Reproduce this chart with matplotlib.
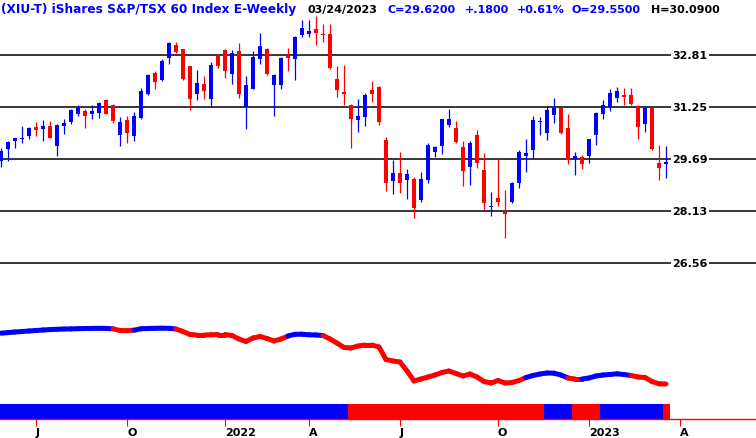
import numpy as np
import pandas as pd
import matplotlib
matplotlib.use("Agg")
import matplotlib.pyplot as plt
from matplotlib.collections import LineCollection
from matplotlib.transforms import blended_transform_factory

BLUE = "#0000ff"
RED = "#ff0000"
W, H = 756, 439

# weekly bars, last one is the week ending 03/24/2023
last_date = "2023-03-24"

opens = [29.65, 30.01, 30.25, 30.29, 30.40, 30.66, 30.60, 30.69, 30.09, 30.69,
         30.81, 31.05, 31.14, 31.05, 31.08, 31.47, 31.32, 30.42, 30.87, 30.40,
         30.93, 31.65, 32.28, 32.08, 32.74, 33.12, 33.00, 32.49, 31.65, 31.95,
         31.50, 32.82, 32.97, 32.25, 32.94, 31.26, 31.80, 32.70, 33.00, 31.92,
         31.92, 32.82, 32.70, 33.42, 33.45, 33.60, 33.45, 33.45, 32.10, 31.71,
         31.32, 30.87, 30.96, 31.77, 31.86, 30.27, 29.04, 29.28, 29.07, 29.10,
         28.47, 29.07, 29.92, 30.10, 30.73, 30.63, 30.06, 29.47, 30.42, 29.37,
         28.25, 28.52, 28.11, 28.41, 28.98, 29.79, 29.98, 30.80, 30.49, 31.03,
         31.24, 30.63, 29.70, 29.76, 29.80, 30.43, 31.06, 31.27, 31.54, 31.63,
         31.63, 31.30, 30.76, 31.24, 29.58, 29.55]
highs = [30.03, 30.24, 30.33, 30.69, 30.66, 30.81, 30.87, 30.84, 30.76, 30.90,
         31.20, 31.32, 31.20, 31.32, 31.41, 31.50, 31.35, 30.96, 30.99, 31.11,
         31.83, 32.25, 32.34, 32.70, 33.21, 33.21, 33.01, 32.50, 32.37, 32.19,
         32.61, 32.85, 33.00, 32.97, 33.18, 32.19, 32.94, 33.48, 33.03, 32.25,
         32.76, 33.03, 33.39, 33.87, 33.87, 33.99, 33.75, 33.75, 32.49, 32.52,
         31.35, 31.50, 31.68, 32.04, 31.89, 30.36, 29.68, 29.91, 29.40, 29.16,
         29.31, 30.18, 30.09, 30.91, 31.20, 30.84, 30.24, 30.24, 30.57, 29.88,
         28.71, 29.69, 28.77, 29.00, 29.97, 30.30, 30.99, 30.96, 31.29, 31.53,
         31.25, 31.05, 29.91, 29.82, 30.30, 31.12, 31.47, 31.80, 31.87, 31.84,
         31.83, 31.33, 31.30, 31.27, 30.12, 30.09]
lows = [29.47, 29.65, 30.04, 30.19, 30.31, 30.40, 30.24, 30.32, 29.79, 30.45,
        30.75, 30.99, 30.63, 30.90, 30.93, 31.05, 30.79, 30.10, 30.19, 30.25,
        30.90, 31.62, 31.80, 32.05, 32.55, 32.88, 32.07, 31.17, 31.47, 31.50,
        31.26, 32.43, 32.13, 31.95, 31.53, 30.60, 31.79, 32.55, 32.22, 30.99,
        31.80, 32.34, 32.07, 33.36, 33.36, 33.12, 33.21, 32.40, 31.56, 31.32,
        30.03, 30.51, 30.69, 31.41, 30.73, 28.74, 28.65, 28.68, 28.50, 27.93,
        28.41, 28.98, 29.77, 29.86, 30.67, 30.19, 28.89, 28.92, 29.43, 28.17,
        27.99, 28.29, 27.33, 28.38, 28.83, 29.32, 29.70, 30.43, 30.28, 30.79,
        30.46, 29.54, 29.22, 29.40, 29.58, 30.13, 30.91, 31.15, 31.42, 31.33,
        31.33, 30.31, 30.52, 29.96, 29.07, 29.13]
closes = [29.95, 30.21, 30.33, 30.31, 30.63, 30.57, 30.69, 30.33, 30.73, 30.78,
          31.17, 31.24, 30.99, 31.14, 31.38, 31.06, 30.84, 30.81, 30.49, 30.99,
          31.74, 32.22, 32.02, 32.64, 33.18, 32.91, 32.10, 31.50, 31.98, 31.74,
          32.52, 32.49, 32.34, 32.88, 31.65, 31.92, 32.76, 33.09, 32.25, 32.22,
          32.73, 32.73, 33.36, 33.63, 33.54, 33.48, 33.41, 32.43, 31.77, 31.65,
          30.90, 30.99, 31.62, 31.65, 30.82, 28.98, 29.28, 28.98, 29.25, 28.23,
          29.10, 30.12, 30.06, 30.90, 30.90, 30.22, 29.34, 30.18, 29.58, 28.37,
          28.26, 28.41, 28.05, 28.97, 29.91, 29.88, 30.87, 30.81, 31.17, 31.24,
          30.49, 29.66, 29.79, 29.56, 30.30, 31.09, 31.33, 31.69, 31.75, 31.57,
          31.36, 30.67, 31.24, 30.01, 29.44, 29.62]

# lower trend line (0-100 panel units) and its colour runs, starting blue
trend = [65.8, 66.4, 67.0, 67.5, 68.0, 68.5, 69.0, 69.4, 69.7, 70.0,
         70.1, 70.3, 70.5, 70.6, 70.7, 70.6, 70.2, 68.5, 68.3, 68.8,
         70.2, 70.5, 70.7, 70.8, 70.7, 70.0, 67.5, 64.5, 64.0, 64.0,
         64.2, 64.5, 64.5, 63.5, 60.0, 57.5, 61.0, 62.5, 60.5, 58.0,
         60.0, 63.0, 64.7, 64.8, 64.2, 64.0, 63.5, 60.0, 56.0, 51.5,
         51.0, 53.0, 54.0, 54.0, 52.0, 39.5, 38.0, 37.0, 28.0, 18.0,
         20.0, 22.0, 24.0, 26.5, 28.0, 25.5, 23.0, 25.0, 22.0, 17.5,
         16.0, 18.5, 16.0, 16.5, 18.5, 21.5, 23.5, 25.0, 26.0, 25.8,
         24.0, 21.0, 20.0, 20.0, 21.0, 23.0, 24.0, 24.5, 25.2, 24.5,
         23.5, 22.0, 21.5, 17.5, 15.2, 15.0]
trend_runs = [17, 3, 6, 16, 5, 29, 6, 2, 7, 5]
# bottom strip colour runs, starting blue
strip_runs = [50, 28, 4, 4, 9, 1]

grid_levels = [32.8125, 31.25, 29.6875, 28.125, 26.5625]
grid_labels = ["32.81", "31.25", "29.69", "28.13", "26.56"]

header = [("(XIU-T) iShares S&P/TSX 60 Index E-Weekly", 1, BLUE, 8.7),
          ("03/24/2023", 307, "black", 8),
          ("C=29.6200", 388, BLUE, 8),
          ("+.1800", 465, BLUE, 8),
          ("+0.61%", 517, BLUE, 8),
          ("O=29.5500", 572, BLUE, 8),
          ("H=30.0900", 651, "black", 8)]


def runs_to_colours(runs):
    out = []
    for k, n in enumerate(runs):
        out += [BLUE if k % 2 == 0 else RED] * n
    return out


plt.rcParams["font.family"] = ["DejaVu Sans"]
fig = plt.figure(figsize=(W / 100, H / 100), dpi=100)


def px_axes(top, bottom):
    return fig.add_axes([0, 1 - bottom / H, 1, (bottom - top) / H])


opens, highs, lows, closes = map(np.array, (opens, highs, lows, closes))
x = np.arange(len(opens))
xlim = (-1 / 7, 755 / 7)

# ---- price panel ----
ax = px_axes(0, 300)
ax.set_xlim(*xlim)
ax.set_ylim(34.504 - 0.03005 * 300, 34.504)
ax.axis("off")

for lev in grid_levels:
    ax.axhline(lev, color="black", linewidth=1.1, zorder=1)

cols = np.where(closes >= opens, BLUE, RED)
ax.vlines(x, lows, highs, colors=cols, linewidth=0.9, zorder=2)
body_lo = np.minimum(opens, closes)
body_h = np.maximum(np.abs(closes - opens), 0.035)
ax.bar(x, body_h, bottom=body_lo, width=0.7, color=cols, linewidth=0, zorder=3)

tr = blended_transform_factory(ax.transAxes, ax.transData)
for lev, lab in zip(grid_levels, grid_labels):
    ax.text(690 / W, lev, lab, transform=tr, ha="center", va="center",
            fontsize=8, fontweight="bold", color="black", zorder=4,
            bbox=dict(facecolor="white", edgecolor="none", pad=1.2))

for txt, px, c, fs in header:
    fig.text(px / W, 1 - 13 / H, txt, ha="left", va="baseline",
             fontsize=fs, fontweight="bold", color=c)

# ---- trend line panel ----
ax2 = px_axes(300, 400)
ax2.set_xlim(*xlim)
ax2.set_ylim(0, 100)
ax2.axis("off")
pts = np.column_stack([x, trend])
segs = np.stack([pts[:-1], pts[1:]], axis=1)
tcols = runs_to_colours(trend_runs)
lc = LineCollection(segs, colors=tcols[1:], linewidths=3.6, capstyle="round")
ax2.add_collection(lc)

# ---- strip + date axis ----
ax3 = px_axes(405, 420)
ax3.set_xlim(*xlim)
ax3.set_ylim(0, 1)
ax3.bar(x, 1, width=1.0, bottom=0, color=runs_to_colours(strip_runs), linewidth=0)
for s in ("top", "left", "right"):
    ax3.spines[s].set_visible(False)
ax3.spines["bottom"].set_color(RED)
ax3.spines["bottom"].set_linewidth(1.0)
ax3.set_yticks([])

dates = pd.date_range(end=last_date, periods=len(opens), freq="W-FRI")
all_dates = pd.date_range(start=dates[0], periods=len(dates) + 12, freq="W-FRI")
tick_idx, tick_lab = [], []
for k in range(1, len(all_dates)):
    d = all_dates[k]
    if d.month != all_dates[k - 1].month and d.month in (1, 4, 7, 10):
        tick_idx.append(k)
        tick_lab.append(str(d.year) if d.month == 1 else d.strftime("%b")[0])
ax3.set_xticks(tick_idx, tick_lab)
ax3.tick_params(axis="x", direction="out", length=5, width=0.8, color=RED,
                labelcolor="black", labelsize=8, pad=1)
for lbl in ax3.get_xticklabels():
    lbl.set_ha("left")
    lbl.set_fontweight("bold")

fig.savefig("out.png", dpi=100)
